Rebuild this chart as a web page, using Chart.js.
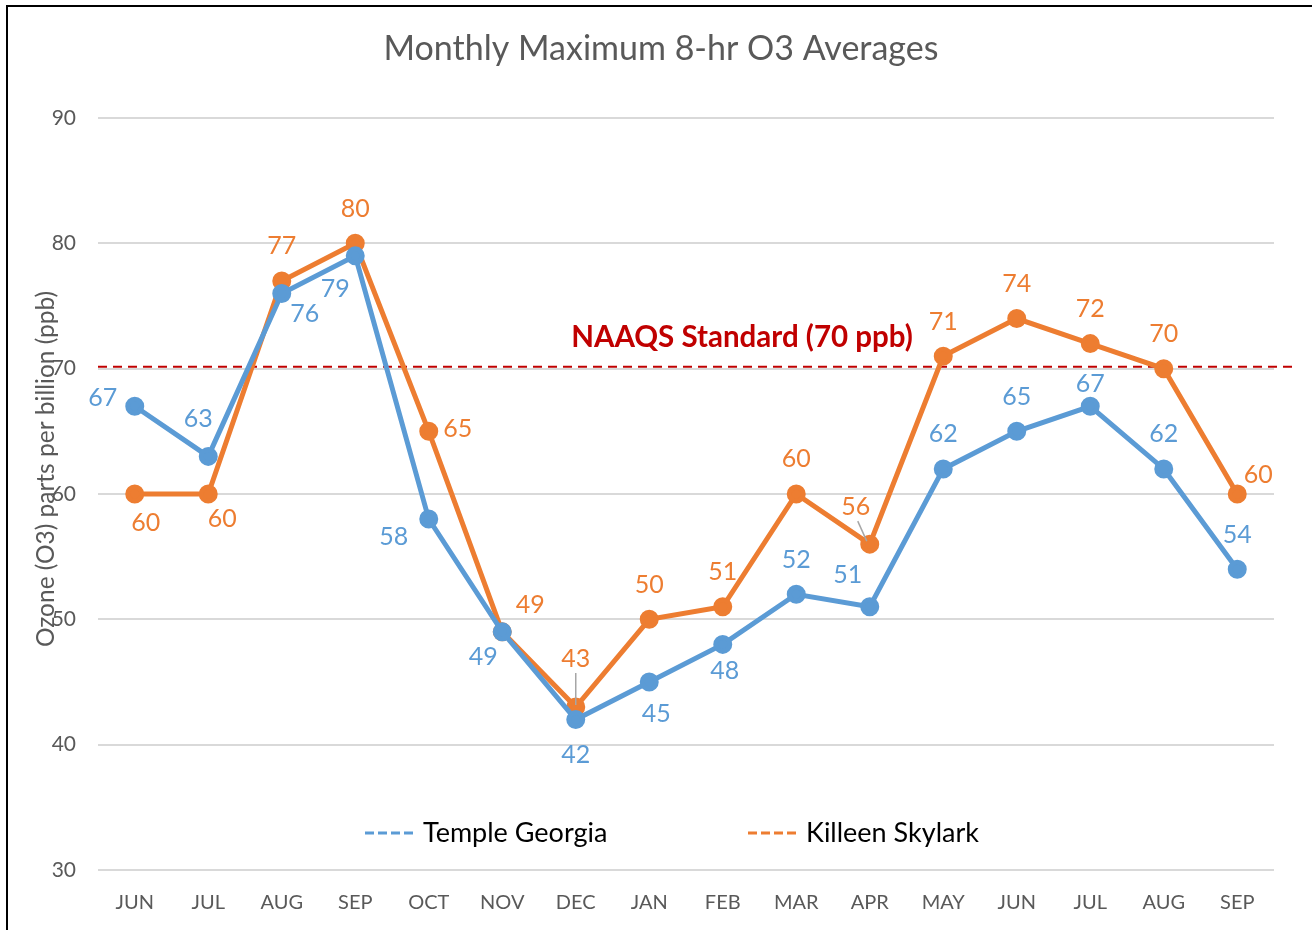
<!DOCTYPE html>
<html>
<head>
<meta charset="utf-8">
<script src="https://cdn.jsdelivr.net/npm/chart.js@4.4.1/dist/chart.umd.min.js"></script>
<style>
  html, body { margin: 0; padding: 0; background: #fff; overflow: hidden; }
  #wrap { width: 1312px; height: 930px; position: relative; }
</style>
</head>
<body>
<div id="wrap"><canvas id="myChart" width="1312" height="930"></canvas></div>
<script>
const months = ['JUN', 'JUL', 'AUG', 'SEP', 'OCT', 'NOV', 'DEC', 'JAN', 'FEB', 'MAR', 'APR', 'MAY', 'JUN', 'JUL', 'AUG', 'SEP'];
const templeGeorgia = [67, 63, 76, 79, 58, 49, 42, 45, 48, 52, 51, 62, 65, 67, 62, 54];
const killeenSkylark = [60, 60, 77, 80, 65, 49, 43, 50, 51, 60, 56, 71, 74, 72, 70, 60];
const naaqsLevel = 70;
const naaqsText = 'NAAQS Standard (70 ppb)';

// label offsets from the point (px), [dx, dy, leader]
const templeLabelPos = [[-32,-8],[-10,-37],[23,20],[-20,33],[-35,18],[-19,25],[0,35],[7,32],[2,27],[0,-34],[-22,-32],[0,-35],[0,-34],[0,-22],[0,-35],[0,-34]];
const killeenLabelPos = [[11,29],[14,25],[0,-35],[0,-34],[29,-2],[28,-27],[0,-48,true],[0,-34],[0,-35],[0,-35],[-14,-37,true],[0,-34],[0,-35],[0,-35],[0,-35],[21,-19]];

const BLUE = '#5B9BD5';
const ORANGE = '#ED7D31';
const FONT = 'Lato, "Open Sans", sans-serif';

const extras = {
    id: 'extras',
    beforeDatasetsDraw(chart) {
        const ctx = chart.ctx;
        const a = chart.chartArea;
        const y = chart.scales.y.getPixelForValue(naaqsLevel) - 2;
        ctx.save();
        ctx.strokeStyle = '#C00000';
        ctx.lineWidth = 2;
        ctx.setLineDash([9, 6]);
        ctx.beginPath();
        ctx.moveTo(a.left, y);
        ctx.lineTo(a.right + 21, y);
        ctx.stroke();
        ctx.restore();
    },
    afterDatasetsDraw(chart) {
        const ctx = chart.ctx;
        ctx.save();
        // frame
        ctx.strokeStyle = '#000';
        ctx.lineWidth = 2;
        ctx.beginPath();
        ctx.moveTo(7, 930);
        ctx.lineTo(7, 6);
        ctx.lineTo(1312, 6);
        ctx.stroke();

        // title
        ctx.fillStyle = '#595959';
        ctx.font = '34px ' + FONT;
        ctx.textAlign = 'center';
        ctx.textBaseline = 'middle';
        ctx.fillText('Monthly Maximum 8-hr O3 Averages', 661, 49);

        // naaqs text
        ctx.fillStyle = '#C00000';
        ctx.font = 'bold 29.5px ' + FONT;
        ctx.fillText(naaqsText, 742, 337);

        // y axis title
        ctx.save();
        ctx.translate(46, 469);
        ctx.rotate(-Math.PI / 2);
        ctx.fillStyle = '#595959';
        ctx.font = '24.5px ' + FONT;
        ctx.fillText('Ozone (O3) parts per billion (ppb)', 0, 0);
        ctx.restore();

        // data labels
        const posSets = [templeLabelPos, killeenLabelPos];
        chart.data.datasets.forEach((ds, di) => {
            const meta = chart.getDatasetMeta(di);
            meta.data.forEach((pt, i) => {
                const p = posSets[di][i];
                const lx = pt.x + p[0];
                const ly = pt.y + p[1];
                if (p[2]) {
                    ctx.strokeStyle = '#A6A6A6';
                    ctx.lineWidth = 1.5;
                    ctx.beginPath();
                    if (p[0] === 0) {
                        ctx.moveTo(pt.x, ly + 14);
                        ctx.lineTo(pt.x, pt.y - 2);
                    } else {
                        ctx.moveTo(lx + 2, ly + 14);
                        ctx.lineTo(pt.x - 3, pt.y - 3);
                    }
                    ctx.stroke();
                }
                ctx.fillStyle = ds.borderColor;
                ctx.font = '25px ' + FONT;
                ctx.fillText(String(ds.data[i]), lx, ly);
            });
        });

        // legend
        const items = [[365, 'Temple Georgia', BLUE], [748, 'Killeen Skylark', ORANGE]];
        items.forEach(it => {
            ctx.strokeStyle = it[2];
            ctx.lineWidth = 3;
            ctx.setLineDash([9, 4]);
            ctx.beginPath();
            ctx.moveTo(it[0], 833);
            ctx.lineTo(it[0] + 50, 833);
            ctx.stroke();
            ctx.setLineDash([]);
            ctx.fillStyle = '#000';
            ctx.font = '27px ' + FONT;
            ctx.textAlign = 'left';
            ctx.fillText(it[1], it[0] + 58, 833);
            ctx.textAlign = 'center';
        });
        ctx.restore();
    }
};

const chart = new Chart(document.getElementById('myChart'), {
    type: 'line',
    data: {
        labels: months,
        datasets: [{
            label: 'Temple Georgia',
            data: templeGeorgia,
            borderColor: BLUE,
            backgroundColor: BLUE,
            borderWidth: 5,
            pointRadius: 7,
            pointHoverRadius: 7,
            tension: 0
        }, {
            label: 'Killeen Skylark',
            data: killeenSkylark,
            borderColor: ORANGE,
            backgroundColor: ORANGE,
            borderWidth: 5,
            pointRadius: 7,
            pointHoverRadius: 7,
            tension: 0
        }]
    },
    options: {
        responsive: false,
        animation: false,
        devicePixelRatio: 1,
        layout: { padding: { left: 0, right: 38, top: 118, bottom: 0 } },
        scales: {
            x: {
                offset: true,
                grid: { display: false, drawTicks: false },
                border: { display: false },
                ticks: { color: '#595959', font: { family: FONT, size: 20 }, padding: 21, maxRotation: 0, autoSkip: false },
                afterFit(s) { s.height = 60; }
            },
            y: {
                min: 30,
                max: 90,
                grid: { color: '#D9D9D9', lineWidth: 2, drawTicks: false },
                border: { display: false },
                ticks: { stepSize: 10, color: '#595959', font: { family: FONT, size: 21 }, padding: 22 },
                afterFit(s) { s.width = 98; }
            }
        },
        plugins: {
            legend: { display: false },
            tooltip: { enabled: false }
        }
    },
    plugins: [extras]
});
</script>
</body>
</html>
